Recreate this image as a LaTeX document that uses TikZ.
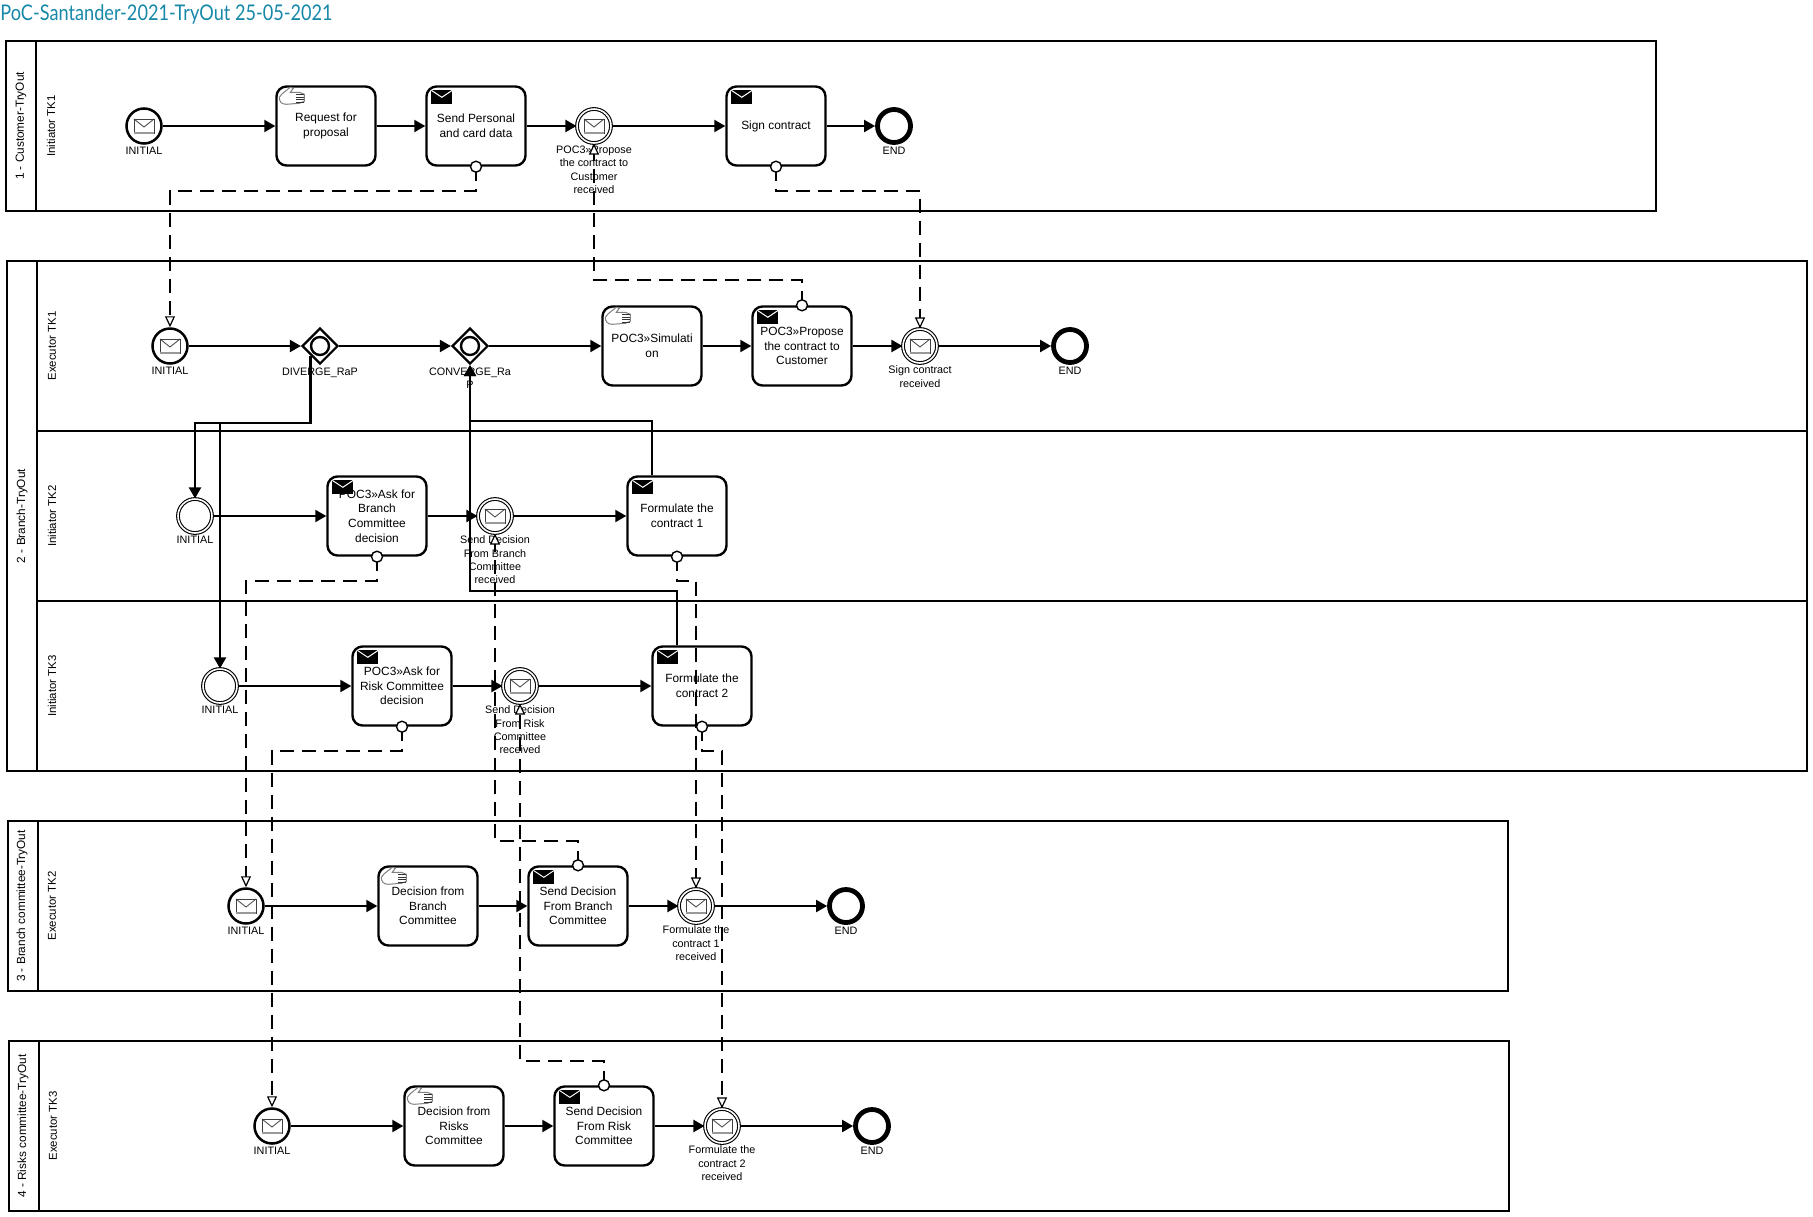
\documentclass[tikz,border=0pt]{standalone}
\usepackage{fontspec}
\setmainfont{Liberation Sans}
\newfontfamily\titlefont[FakeStretch=0.84]{Lato}
\usetikzlibrary{positioning,arrows.meta,shapes.geometric}
\definecolor{titleblue}{RGB}{22,136,168}
\tikzset{
  pool/.style={draw,line width=1.25pt},
  poolname/.style={rotate=90,font=\fontsize{5.9}{7}\selectfont,inner sep=0pt},
  lanename/.style={rotate=90,font=\fontsize{5.7}{7}\selectfont,inner sep=0pt},
  task/.style={draw,line width=1.2pt,rounded corners=5pt,fill=white,minimum width=49.5pt,minimum height=39.5pt,inner sep=0pt,align=center,font=\fontsize{5.95}{7.3}\selectfont},
  startev/.style={circle,draw,line width=1.25pt,fill=white,minimum size=17.5pt,inner sep=0pt},
  midev/.style={circle,draw,line width=.55pt,double,double distance=.8pt,fill=white,minimum size=17pt,inner sep=0pt},
  endev/.style={circle,draw,line width=2.4pt,fill=white,minimum size=16.5pt,inner sep=0pt},
  gate/.style={diamond,draw,line width=1.1pt,fill=white,minimum size=18pt,inner sep=0pt},
  evlabel/.style={inner sep=0pt,align=center,font=\fontsize{5.4}{6.7}\selectfont},
  flow/.style={line width=1.05pt,-{Triangle[length=5.5pt,width=6pt]}},
  msg/.style={line width=.55pt,dash pattern=on 7pt off 4pt,-{Triangle[open,fill=white,length=5.5pt,width=5pt,line width=.6pt]}},
  msgdot/.style={circle,draw,line width=.7pt,fill=white,minimum size=5.5pt,inner sep=0pt},
  mailblack/.pic={
    \fill[black] (0,0) rectangle (21,14);
    \draw[white,line width=.5pt] (0,0) -- (10.5,7) -- (21,0);
  },
  mailwhite/.pic={
    \draw[black!75,line width=.4pt,fill=white] (-10,-7) rectangle (10,7);
    \draw[black!75,line width=.4pt] (-10,-7) -- (0,1) -- (10,-7);
    \draw[black!40,line width=.6pt] (-10,7) -- (10,7);
  },
  hand/.pic={
    \draw[black!50,line width=.5pt,fill=white] (0,10) .. controls (1,8) and (2,7) .. (11,0) -- (14,1) -- (11,5) -- (20,5) -- (25,7) -- (25,14) -- (20,16) -- (7,17)
      .. controls (2,17) and (0,14) .. cycle;
    \foreach \fy in {7.5,10,12.5,15}{\draw[black!80,line width=.6pt] (17,\fy) -- (25,\fy);}
  }
}
\begin{document}
\begin{tikzpicture}[x=0.5pt,y=-0.5pt]
\useasboundingbox (0,0) rectangle (1813,1216);
\node[anchor=west,inner sep=0pt,text=titleblue,font=\titlefont\fontsize{10.8}{12}\selectfont] (title) at (0,14) {PoC-Santander-2021-TryOut 25-05-2021};
%pools and lanes
\draw[pool] (6,41) rectangle (1656,211);
\draw[pool] (36,41) -- (36,211);
\draw[pool] (7,261) rectangle (1807,771);
\draw[pool] (37,261) -- (37,771);
\draw[pool] (37,431) -- (1807,431);
\draw[pool] (37,601) -- (1807,601);
\draw[pool] (8,821) rectangle (1508,991);
\draw[pool] (38,821) -- (38,991);
\draw[pool] (9,1041) rectangle (1509,1211);
\draw[pool] (39,1041) -- (39,1211);
\node[poolname] (pa) at (21,126) {1 - Customer-TryOut};
\node[poolname] (pb) at (22,516) {2 - Branch-TryOut};
\node[poolname] (pc) at (22,906) {3 - Branch committee-TryOut};
\node[poolname] (pd) at (23,1126) {4 - Risks committee-TryOut};
\node[lanename] (la) at (51,126) {Initiator TK1};
\node[lanename] (lb) at (52,346) {Executor TK1};
\node[lanename] (lc) at (52,516) {Initiator TK2};
\node[lanename] (ld) at (52,686) {Initiator TK3};
\node[lanename] (le) at (52,906) {Executor TK2};
\node[lanename] (lf) at (53,1126) {Executor TK3};
%1 - customer
\node[startev] (sa) at (144,126) {};
\node[task] (ta) at (326,126) {Request for\\proposal};
\node[task] (tb) at (476,126) {Send Personal\\and card data};
\node[midev] (ma) at (594,126) {};
\node[task] (tc) at (776,126) {Sign contract};
\node[endev] (ea) at (894,126) {};
%2 - branch, executor TK1
\node[startev] (sb) at (170,346) {};
\node[gate] (ga) at (320,346) {};
\node[gate] (gb) at (470,346) {};
\node[task] (td) at (652,346) {POC3»Simulati\\on};
\node[task] (te) at (802,346) {POC3»Propose\\the contract to\\Customer};
\node[midev] (mb) at (920,346) {};
\node[endev] (eb) at (1070,346) {};
%2 - branch, initiator TK2
\node[midev] (sc) at (195,516) {};
\node[task] (tf) at (377,516) {POC3»Ask for\\Branch\\Committee\\decision};
\node[midev] (mc) at (495,516) {};
\node[task] (tg) at (677,516) {Formulate the\\contract 1};
%2 - branch, initiator TK3
\node[midev] (sd) at (220,686) {};
\node[task] (th) at (402,686) {POC3»Ask for\\Risk Committee\\decision};
\node[midev] (md) at (520,686) {};
\node[task] (ti) at (702,686) {Formulate the\\contract 2};
%3 - branch committee
\node[startev] (se) at (246,906) {};
\node[task] (tj) at (428,906) {Decision from\\Branch\\Committee};
\node[task] (tk) at (578,906) {Send Decision\\From Branch\\Committee};
\node[midev] (me) at (696,906) {};
\node[endev] (ec) at (846,906) {};
%4 - risks committee
\node[startev] (sf) at (272,1126) {};
\node[task] (tl) at (454,1126) {Decision from\\Risks\\Committee};
\node[task] (tm) at (604,1126) {Send Decision\\From Risk\\Committee};
\node[midev] (mf) at (722,1126) {};
\node[endev] (ed) at (872,1126) {};
%event labels
\node[evlabel,below=1pt of sa] (xa) {INITIAL};
\node[evlabel,below=1pt of ma] (xb) {POC3»Propose\\the contract to\\Customer\\received};
\node[evlabel,below=1pt of ea] (xc) {END};
\node[evlabel,below=1pt of sb] (xd) {INITIAL};
\node[evlabel,below=1pt of ga] (xe) {DIVERGE\_RaP};
\node[evlabel,below=1pt of gb] (xf) {CONVERGE\_Ra\\P};
\node[evlabel,below=1pt of mb] (xg) {Sign contract\\received};
\node[evlabel,below=1pt of eb] (xh) {END};
\node[evlabel,below=1pt of sc] (xi) {INITIAL};
\node[evlabel,below=1pt of mc] (xj) {Send Decision\\From Branch\\Committee\\received};
\node[evlabel,below=1pt of sd] (xk) {INITIAL};
\node[evlabel,below=1pt of md] (xl) {Send Decision\\From Risk\\Committee\\received};
\node[evlabel,below=1pt of se] (xm) {INITIAL};
\node[evlabel,below=1pt of me] (xn) {Formulate the\\contract 1\\received};
\node[evlabel,below=1pt of ec] (xo) {END};
\node[evlabel,below=1pt of sf] (xp) {INITIAL};
\node[evlabel,below=1pt of mf] (xq) {Formulate the\\contract 2\\received};
\node[evlabel,below=1pt of ed] (xr) {END};
%icons
\foreach \n in {sa,ma,sb,mb,mc,md,se,me,sf,mf}{\pic at (\n) {mailwhite};}
\foreach \n in {tb,tc,te,tf,tg,th,ti,tk,tm}{\pic at ([shift={(6,5)}]\n.north west) {mailblack};}
\foreach \n in {ta,td,tj,tl}{\pic at ([shift={(4,2)}]\n.north west) {hand};}
\foreach \n in {ga,gb}{\draw[line width=1.2pt] (\n) circle[radius=9];}
%sequence flows
\foreach \a/\b in {sa/ta,ta/tb,tb/ma,ma/tc,tc/ea,sb/ga,ga/gb,gb/td,td/te,te/mb,mb/eb,sc/tf,tf/mc,mc/tg,sd/th,th/md,md/ti,se/tj,tj/tk,tk/me,me/ec,sf/tl,tl/tm,tm/mf,mf/ed}{
  \draw[flow] (\a) -- (\b);}
\coordinate (ja) at (195,423);
\coordinate (jb) at (220,423);
\coordinate (jc) at (470,421);
\coordinate (jd) at (470,591);
\draw[flow] (ga.south west) |- (ja) -- (sc.north);
\draw[flow] (ga.south west) |- (jb) -- (sd.north);
\draw[flow] ([xshift=-12.5pt]tg.north) |- (jc) -- (gb.south);
\draw[flow] ([xshift=-12.5pt]ti.north) |- (jd) -- (gb.south);
%message flows
\coordinate (ka) at (170,191);
\coordinate (kb) at (594,280);
\coordinate (kc) at (920,191);
\coordinate (kd) at (246,581);
\coordinate (ke) at (495,841);
\coordinate (kf) at (696,581);
\coordinate (kg) at (272,751);
\coordinate (kh) at (520,1061);
\coordinate (ki) at (722,751);
\draw[msg] (tb.south) |- (ka) -- (sb.north);
\draw[msg] (te.north) |- (kb) -- (ma.south);
\draw[msg] (tc.south) |- (kc) -- (mb.north);
\draw[msg] (tf.south) |- (kd) -- (se.north);
\draw[msg] (tk.north) |- (ke) -- (mc.south);
\draw[msg] (tg.south) |- (kf) -- (me.north);
\draw[msg] (th.south) |- (kg) -- (sf.north);
\draw[msg] (tm.north) |- (kh) -- (md.south);
\draw[msg] (ti.south) |- (ki) -- (mf.north);
\foreach \n/\p in {tb/south,te/north,tc/south,tf/south,tk/north,tg/south,th/south,tm/north,ti/south}{
  \node[msgdot] (dot\n) at (\n.\p) {};}
\end{tikzpicture}
\end{document}
